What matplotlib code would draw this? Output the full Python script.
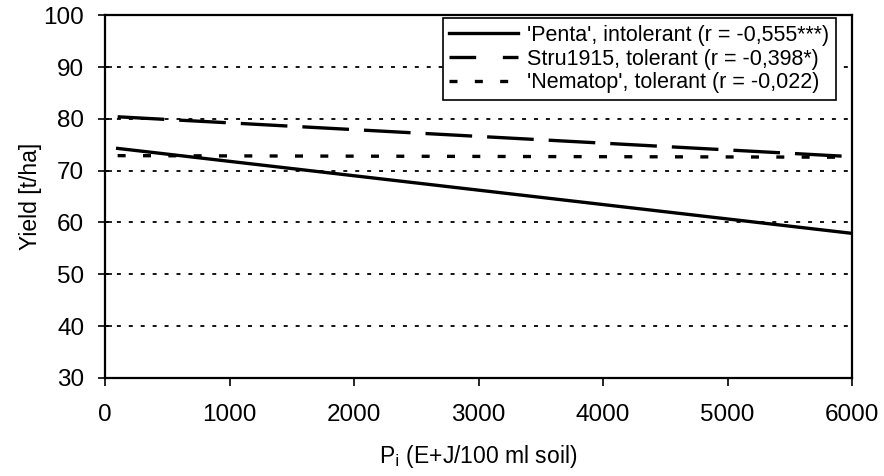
import matplotlib
matplotlib.use("Agg")
import matplotlib.pyplot as plt

plt.rcParams["font.family"] = ["Liberation Sans", "DejaVu Sans"]

# regression lines: yield vs initial nematode density
X_RANGE = [100, 6000]
PENTA = [74.3, 57.9]
STRU = [80.4, 72.7]
NEMATOP = [72.9, 72.6]

LABELS = [
    "'Penta', intolerant (r = -0,555***)",
    "Stru1915, tolerant (r = -0,398*)",
    "'Nematop', tolerant (r = -0,022)",
]
Y_TICKS = [30, 40, 50, 60, 70, 80, 90, 100]
X_TICKS = [0, 1000, 2000, 3000, 4000, 5000, 6000]

fig = plt.figure(figsize=(8.84, 4.76), dpi=100)
ax = fig.add_axes([0.119, 0.206, 0.845, 0.762])

# dotted gridlines
for y in Y_TICKS[1:-1]:
    ax.axhline(y, color="black", lw=1.3, ls=(0, (2.2, 4.4)), zorder=1)

ax.plot(X_RANGE, PENTA, color="black", lw=2.4, ls="-", label=LABELS[0], zorder=3)
ax.plot(X_RANGE, STRU, color="black", lw=2.4, ls=(0, (14, 4.5)), label=LABELS[1], zorder=3)
ax.plot(X_RANGE, NEMATOP, color="black", lw=2.4, ls=(0, (2.4, 5.2)), label=LABELS[2], zorder=3)

ax.set_xlim(0, 6000)
ax.set_ylim(30, 100)
ax.set_xticks(X_TICKS)
ax.set_yticks(Y_TICKS)
ax.tick_params(axis="y", direction="inout", length=10, width=1.2, labelsize=17.5, pad=10)
ax.tick_params(axis="x", direction="out", length=6, width=1.2, labelsize=17.5, pad=13)
for s in ax.spines.values():
    s.set_linewidth(1.6)

ax.set_ylabel("Yield [t/ha]", fontsize=16.5, labelpad=1)
ax.set_xlabel("P$_\\mathrm{i}$ (E+J/100 ml soil)", fontsize=16.5, labelpad=12)

leg = ax.legend(loc="upper right", fontsize=15.5, frameon=True, fancybox=False,
                edgecolor="black", framealpha=1, borderpad=0.3, handlelength=3.2,
                handletextpad=0.4, labelspacing=0.12, borderaxespad=0.15,
                bbox_to_anchor=(0.982, 1.0))
leg.get_frame().set_linewidth(1.2)
# the legend sample of the long-dash line shows shorter dashes
leg.get_lines()[1].set_linestyle((0, (8, 8)))

plt.savefig("out.png", dpi=100)
